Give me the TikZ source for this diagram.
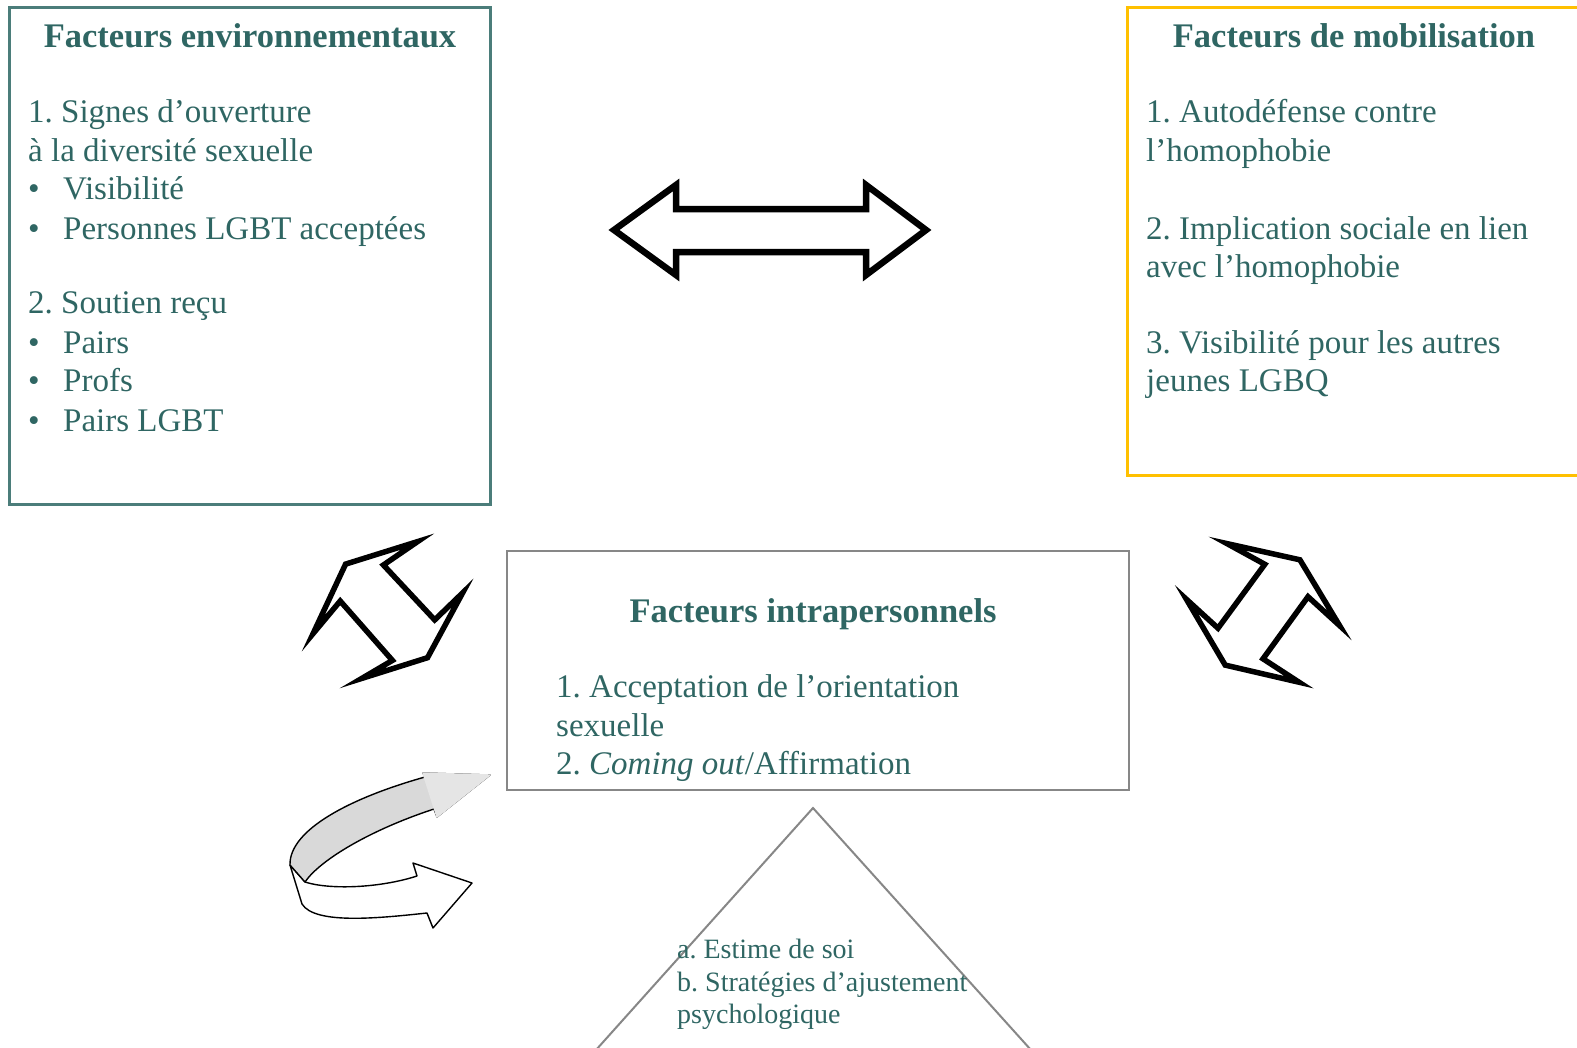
\documentclass[tikz,border=0pt]{standalone}
\usepackage{fontspec}
\setmainfont{Liberation Serif}
\usetikzlibrary{positioning}

\definecolor{textteal}{RGB}{47,102,99}
\definecolor{frameteal}{RGB}{75,125,122}
\definecolor{framegold}{RGB}{255,192,0}
\definecolor{framegray}{RGB}{135,135,135}

\newcommand{\bodysize}{\fontsize{33}{39}\selectfont}
\newcommand{\headsize}{\fontsize{34.5}{39}\selectfont}
\newcommand{\notesize}{\fontsize{28}{32}\selectfont}
\frenchspacing

\begin{document}
\begin{tikzpicture}[x=1pt, y=-1pt,
        frame/.style={draw, line width=2.5pt, inner sep=0pt, anchor=north west},
        heading/.style={font=\headsize\bfseries, text=textteal, anchor=base, inner sep=0pt},
        entry/.style={font=\bodysize, text=textteal, anchor=base west, inner sep=0pt},
        note/.style={font=\notesize, text=textteal, anchor=base west, inner sep=0pt},
        fatarrow/.style={draw, fill=white, miter limit=25},
        twist/.style={draw, line width=1.4pt, line join=round}]
    \useasboundingbox (0,0) rectangle (1577,1047);
    \clip (0,0) rectangle (1577,1047);

    % les trois boites
    \node[frame, draw=frameteal, minimum width=481pt, minimum height=497pt] (env) at (8,6) {};
    \node[frame, draw=framegold, minimum width=480pt, minimum height=468pt] (mob) at (1126,6) {};
    \node[frame, draw=framegray, line width=2pt, minimum width=622pt, minimum height=239pt] (intra) at (506,550) {};

    \node[heading] (envtitle) at (250,47) {Facteurs environnementaux};
    \node[heading] (mobtitle) at (1354,47) {Facteurs de mobilisation};
    \node[heading] (intratitle) at (813,622) {Facteurs intrapersonnels};

    % facteurs environnementaux
    \foreach \yy/\t in {122/{1. Signes d’ouverture}, 161/{à la diversité sexuelle}, 313/{2. Soutien reçu}}
        \node[entry] (env-\yy) at (28,\yy) {\t};
    \foreach \yy/\t in {199/{Visibilité}, 239/{Personnes LGBT acceptées}, 353/{Pairs}, 391/{Profs}, 431/{Pairs LGBT}} {
        \node[entry] (envdot-\yy) at (28,\yy) {\textbullet};
        \node[entry] (env-\yy) at (63,\yy) {\t};
    }

    % facteurs de mobilisation
    \foreach \yy/\t in {122/{1. Autodéfense contre}, 161/{l’homophobie}, 239/{2. Implication sociale en lien},
                        277/{avec l’homophobie}, 353/{3. Visibilité pour les autres}, 391/{jeunes LGBQ}}
        \node[entry] (mob-\yy) at (1146,\yy) {\t};

    % facteurs intrapersonnels
    \node[entry] (intra-a) at (556,697) {1. Acceptation de l’orientation};
    \node[entry] (intra-b) at (556,736) {sexuelle};
    \node[entry] (intra-c) at (556,774) {2. \textit{Coming out}/Affirmation};

    % triangle
    \coordinate (apex) at (813,808);
    \draw[framegray, line width=2pt] (587,1060) -- (apex) -- (1040,1060);
    \node[note] (tri-a) at (677,958) {a. Estime de soi};
    \node[note] (tri-b) at (677,991) {b. Stratégies d’ajustement};
    \node[note] (tri-c) at (677,1023) {psychologique};

    % fleches doubles
    \draw[fatarrow, line width=6.5pt] (614,230) -- (676,185) -- (676,209) -- (866,209) -- (866,185)
        -- (926,230) -- (866,275) -- (866,252) -- (676,252) -- (676,275) -- cycle;
    \draw[fatarrow, line width=5.5pt, scale around={0.9:(387,610)}] (421,534) -- (341,559) -- (305,636) -- (335,600) -- (393,666)
        -- (359,686) -- (432,663) -- (471,591) -- (440,621) -- (383,560) -- cycle;
    \draw[fatarrow, line width=5.5pt, scale around={0.9:(1263,612)}] (1223,536) -- (1304,554) -- (1348,627) -- (1313,595) -- (1263,664)
        -- (1303,690) -- (1221,671) -- (1178,598) -- (1213,630) -- (1265,559) -- cycle;

    % fleche en boucle
    \draw[twist, fill=white] (290,865) -- (305,882) .. controls (330,890) and (380,888) .. (417,876)
        -- (413,863) -- (472,883) -- (433,928) -- (427,913) .. controls (380,918) and (315,925) .. (302,904) -- cycle;
    \draw[twist, fill=black!15] (290,865) .. controls (289,830) and (350,798) .. (425,777)
        -- (423,773) -- (490,775) -- (437,817) -- (434,809) .. controls (370,830) and (320,860) .. (305,882) -- cycle;
    \fill[black!10, draw, line width=1.4pt, line join=round] (423,773) -- (490,775) -- (437,817) -- cycle;
\end{tikzpicture}
\end{document}
